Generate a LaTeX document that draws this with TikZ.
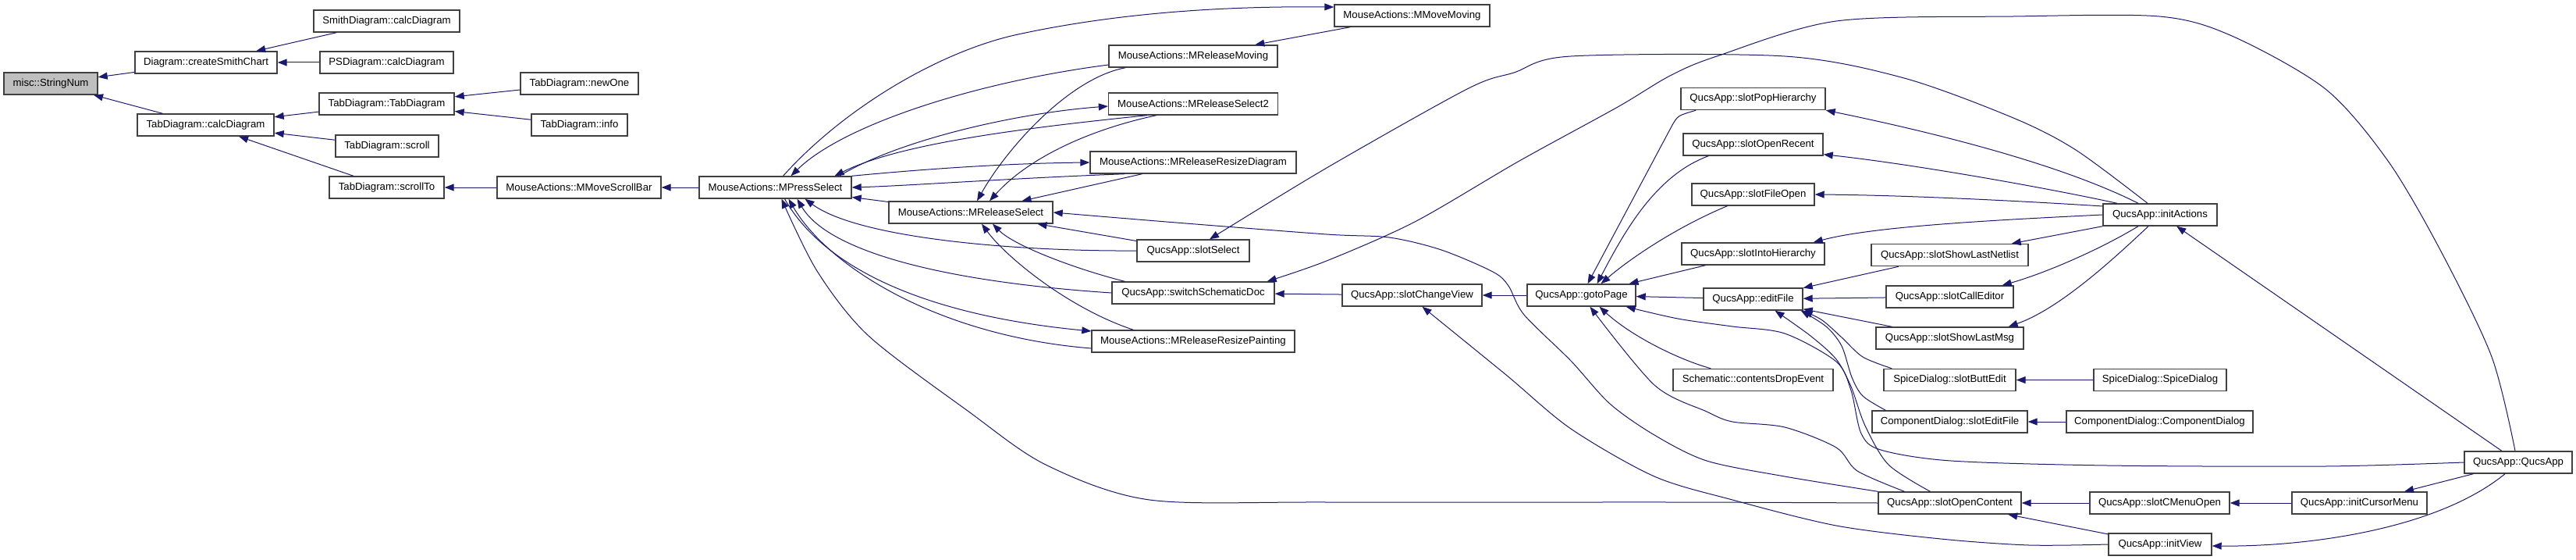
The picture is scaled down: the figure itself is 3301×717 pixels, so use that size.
\documentclass[tikz,border=0pt]{standalone}
\usepackage{fontspec}
\setmainfont{Liberation Sans}
\usetikzlibrary{arrows.meta,calc}
\definecolor{linkblue}{HTML}{191970}
\definecolor{boxline}{HTML}{404040}
\definecolor{snfill}{HTML}{BFBFBF}
\begin{document}
\begin{tikzpicture}[x=1pt,y=-1pt,
  box/.style={draw=boxline, line width=1.4pt, fill=white, minimum height=28pt, inner xsep=4pt, inner ysep=0pt, font=\fontsize{13.2}{15}\selectfont},
  link/.style={draw=linkblue, line width=1pt, -{Triangle[length=12pt,width=9pt]}}]
\useasboundingbox (0,0) rectangle (3301,717);

% nodes
\node[box,minimum width=120pt,fill=snfill] (sn) at (65,107) {misc::StringNum};
\node[box,minimum width=182pt] (csc) at (264,80) {Diagram::createSmithChart};
\node[box,minimum width=175pt] (tcd) at (263.5,160) {TabDiagram::calcDiagram};
\node[box,minimum width=187pt] (sdc) at (495.5,27) {SmithDiagram::calcDiagram};
\node[box,minimum width=171pt] (psd) at (495.5,80) {PSDiagram::calcDiagram};
\node[box,minimum width=173pt] (tdtd) at (495.5,133) {TabDiagram::TabDiagram};
\node[box,minimum width=132pt] (tds) at (496,187) {TabDiagram::scroll};
\node[box,minimum width=147pt] (tdst) at (495.5,240) {TabDiagram::scrollTo};
\node[box,minimum width=151pt] (newone) at (742.5,107) {TabDiagram::newOne};
\node[box,minimum width=123pt] (info) at (742.5,160) {TabDiagram::info};
\node[box,minimum width=210pt] (mmsb) at (742,240) {MouseActions::MMoveScrollBar};
\node[box,minimum width=195pt] (mps) at (993.5,240) {MouseActions::MPressSelect};
\node[box,minimum width=210pt] (mrs) at (1244,272) {MouseActions::MReleaseSelect};
\node[box,minimum width=216pt] (mrm) at (1529,72) {MouseActions::MReleaseMoving};
\node[box,minimum width=217pt] (mrs2) at (1529,133) {MouseActions::MReleaseSelect2};
\node[box,minimum width=264pt] (mrrd) at (1529,208) {MouseActions::MReleaseResizeDiagram};
\node[box,minimum width=144pt] (ss) at (1529,321) {QucsApp::slotSelect};
\node[box,minimum width=208pt] (ssd) at (1529,375) {QucsApp::switchSchematicDoc};
\node[box,minimum width=260pt] (mrrp) at (1529,437) {MouseActions::MReleaseResizePainting};
\node[box,minimum width=199pt] (mmm) at (1809.5,20) {MouseActions::MMoveMoving};
\node[box,minimum width=179pt] (scv) at (1809.5,378) {QucsApp::slotChangeView};
\node[box,minimum width=139pt] (gp) at (2026.5,378) {QucsApp::gotoPage};
\node[box,minimum width=185pt] (sph) at (2246.5,126.5) {QucsApp::slotPopHierarchy};
\node[box,minimum width=179pt] (sor) at (2246.5,185) {QucsApp::slotOpenRecent};
\node[box,minimum width=157pt] (sfo) at (2246.5,249) {QucsApp::slotFileOpen};
\node[box,minimum width=183pt] (sih) at (2246.5,325) {QucsApp::slotIntoHierarchy};
\node[box,minimum width=127pt] (ef) at (2246.5,383) {QucsApp::editFile};
\node[box,minimum width=205pt] (cde) at (2246.5,486.5) {Schematic::contentsDropEvent};
\node[box,minimum width=201pt] (ssln) at (2498.5,326.6) {QucsApp::slotShowLastNetlist};
\node[box,minimum width=163pt] (sce) at (2498.5,380) {QucsApp::slotCallEditor};
\node[box,minimum width=189pt] (sslm) at (2498.5,433) {QucsApp::slotShowLastMsg};
\node[box,minimum width=169pt] (sbe) at (2498.5,486.5) {SpiceDialog::slotButtEdit};
\node[box,minimum width=199pt] (cdsef) at (2498.5,540) {ComponentDialog::slotEditFile};
\node[box,minimum width=183pt] (soc) at (2498.5,644) {QucsApp::slotOpenContent};
\node[box,minimum width=146pt] (ia) at (2768,275) {QucsApp::initActions};
\node[box,minimum width=170pt] (sdsd) at (2768,486.5) {SpiceDialog::SpiceDialog};
\node[box,minimum width=239pt] (cdcd) at (2767.5,540) {ComponentDialog::ComponentDialog};
\node[box,minimum width=179pt] (scmo) at (2767.5,644) {QucsApp::slotCMenuOpen};
\node[box,minimum width=132pt] (iv) at (2768,697) {QucsApp::initView};
\node[box,minimum width=173pt] (icm) at (3023.5,644) {QucsApp::initCursorMenu};
\node[box,minimum width=138pt] (qa) at (3227,592) {QucsApp::QucsApp};

% helper coordinates on node borders
\coordinate (qaTop) at ($(qa.north)+(-4,0)$);
\coordinate (ssdTR) at ($(ssd.north east)+(-10,0)$);
\coordinate (iaTop) at ($(ia.north)+(-16,0)$);
\coordinate (ssTop) at ($(ss.north)+(21,0)$);
\coordinate (mpsB8) at ($(mps.south)+(8,0)$);
\coordinate (gpBR) at ($(gp.south east)+(-13,0)$);
\coordinate (socT1) at ($(soc.north)+(-58,0)$);
\coordinate (gpB11) at ($(gp.south)+(11,0)$);
\coordinate (socT2) at ($(soc.north)+(-25,0)$);
\coordinate (efB28) at ($(ef.south)+(28,0)$);
\coordinate (cdsefT) at ($(cdsef.north west)+(18,0)$);
\coordinate (efBR3) at ($(ef.south east)+(-3,0)$);
\coordinate (sbeT) at ($(sbe.north west)+(11,0)$);
\coordinate (scvB) at ($(scv.south)+(13,0)$);

% straight connectors
\draw[link] (csc) -- (sn);
\draw[link] (tcd) -- (sn);
\draw[link] (sdc) -- (csc);
\draw[link] (psd) -- (csc);
\draw[link] (tdtd) -- (tcd);
\draw[link] (tds) -- (tcd);
\draw[link] (tdst) -- (tcd);
\draw[link] (newone) -- (tdtd);
\draw[link] (info) -- (tdtd);
\draw[link] (mmsb) -- (tdst);
\draw[link] (mps) -- (mmsb);
\draw[link] (mrs) -- (mps);
\draw[link] (mmm) -- (mrm);
\draw[link] (ss) -- (mrs);
\draw[link] (mrrd) -- (mrs);
\draw[link] (scv) -- (ssd);
\draw[link] (gp) -- (scv);
\draw[link] (sih) -- (gp);
\draw[link] (ef) -- (gp);
\draw[link] (ssln) -- (ef);
\draw[link] (sce) -- (ef);
\draw[link] (sslm) -- (ef);
\draw[link] (sdsd) -- (sbe);
\draw[link] (cdcd) -- (cdsef);
\draw[link] (scmo) -- (soc);
\draw[link] (icm) -- (scmo);
\draw[link] (qa) -- (icm);
\draw[link] (qa) -- (ia);
\draw[link] (iv) -- (soc);
\draw[link] (ia.south west) -- ($(ssln.north east)+(-22,0)$);

% MPressSelect cluster
\draw[link] ($(mps.north)+(10,0)$) .. controls (1080,140) and (1200,68) .. (1300,45) .. controls (1450,12) and (1600,8) .. ($(mmm.west)+(0,-11)$);
\draw[link] ($(mrm.west)+(0,11)$) .. controls (1250,105) and (1080,160) .. ($(mps.north)+(20,0)$);
\draw[link] ($(mrm.south west)+(22,0)$) .. controls (1370,100) and (1290,190) .. ($(mrs.north)+(8,0)$);
\draw[link] ($(mps.north)+(82,0)$) .. controls (1150,180) and (1300,145) .. ($(mrs2.west)+(0,3)$);
\draw[link] ($(mrs2.south west)+(50,0)$) .. controls (1300,165) and (1150,185) .. ($(mps.north)+(76,0)$);
\draw[link] (mps.north east) .. controls (1200,215) and (1300,209) .. (mrrd.west);
\draw[link] ($(mrrd.south west)+(45,0)$) .. controls (1300,228) and (1160,238) .. (mps.east);
\draw[link] ($(mrs2.south west)+(62,0)$) .. controls (1400,165) and (1320,200) .. ($(mrs.north)+(24,0)$);
\draw[link] (ss.west) .. controls (1300,322) and (1100,305) .. ($(mps.south)+(38,0)$);
\draw[link] (ssd.west) .. controls (1200,360) and (1060,320) .. ($(mps.south)+(28,0)$);
\draw[link] ($(mrrp.west)+(0,9)$) .. controls (1200,430) and (1060,340) .. ($(mps.south)+(17,0)$);
\draw[link] ($(mps.south)+(12,0)$) .. controls (1060,350) and (1200,405) .. ($(mrrp.west)+(0,-13)$);
\draw[link] ($(ssd.north west)+(17,0)$) .. controls (1380,345) and (1300,315) .. ($(mrs.south)+(28,0)$);
\draw[link] ($(mrrp.north west)+(54,0)$) .. controls (1370,395) and (1290,330) .. ($(mrs.south)+(14,0)$);

% long curves
\draw[link] plot[smooth] coordinates {(soc.west) (2140,643) (1700,643) (1473,640) (1340,595) (1240,526) (1113,430) (1047,347) (mpsB8)};
\draw[link] plot[smooth] coordinates {(soc.north west) (2287,610) (2187,590) (2120,557) (2063,517) (2013,462) (1953,403) (1933,366) (1913,348) (1847,320) (1780,304) (1700,300) (1507,285) (mrs.east)};
\draw[link] plot[smooth] coordinates {(qaTop) (3193,457) (3127,320) (3060,206) (2980,114) (2860,46) (2767,21) (2580,21) (2353,27) (2200,72) (2140,97) (2073,137) (1947,206) (1813,284) (1700,334) (ssdTR)};
\draw[link] plot[smooth] coordinates {(iaTop) (2660,192) (2580,151) (2440,100) (2287,72) (2013,72) (1940,93) (1880,114) (1700,215) (ssTop)};
\draw[link] plot[smooth] coordinates {(qa.west) (2980,597) (2700,596) (2500,590) (2410,576) (2385,555) (2372,500) (2353,463) (2287,427) (2220,418) (2150,408) (gpBR)};
\draw[link] plot[smooth] coordinates {(socT1) (2380,603) (2353,573) (2287,547) (2220,540) (2187,527) (2120,493) (gpB11)};
\draw[link] plot[smooth] coordinates {(socT2) (2420,595) (2390,545) (2372,495) (2353,460) (2320,430) (efB28)};
\draw[link] plot[smooth] coordinates {(cdsefT) (2387,507) (2373,483) (2360,443) (2340,418) (efBR3)};
\draw[link] plot[smooth] coordinates {(sbeT) (2387,457) (2360,432) (2335,410) (ef.south east)};
\draw[link] plot[smooth] coordinates {(iv.west) (2600,698) (2487,690) (2353,673) (2220,640) (2120,610) (2013,549) (1930,480) (scvB)};

% initActions fan
\draw[link] ($(ia.north)+(-28,0)$) .. controls (2640,210) and (2480,170) .. (sph.south east);
\draw[link] ($(ia.north)+(-55,0)$) .. controls (2620,240) and (2450,210) .. ($(sor.south east)+(0,-2)$);
\draw[link] ($(ia.west)+(0,-11)$) .. controls (2600,258) and (2450,250) .. (sfo.east);
\draw[link] (ia.west) .. controls (2550,282) and (2400,290) .. ($(sih.north east)+(-15,0)$);
\draw[link] ($(ia.south)+(-28,0)$) .. controls (2690,320) and (2620,350) .. ($(sce.north east)+(-15,0)$);
\draw[link] ($(ia.south)+(-15,0)$) .. controls (2710,330) and (2640,395) .. ($(sslm.north east)+(-20,0)$);

% QucsApp -> initView
\draw[link] ($(qa.south)+(-17,0)$) .. controls (3120,680) and (2950,700) .. ($(iv.east)+(0,2)$);

% into gotoPage
\draw[link] ($(sph.south west)+(20,0)$) .. controls (2150,148) .. (2143,160) -- ($(gp.north)+(8,0)$);
\draw[link] ($(sor.south west)+(33,0)$) .. controls (2120,225) and (2080,300) .. ($(gp.north)+(20,0)$);
\draw[link] ($(sfo.south)+(-33,0)$) .. controls (2150,290) and (2090,330) .. ($(gp.north)+(25,0)$);
\draw[link] ($(cde.north west)+(49,0)$) .. controls (2150,460) and (2090,430) .. ($(gp.south)+(23,0)$);
\end{tikzpicture}
\end{document}
